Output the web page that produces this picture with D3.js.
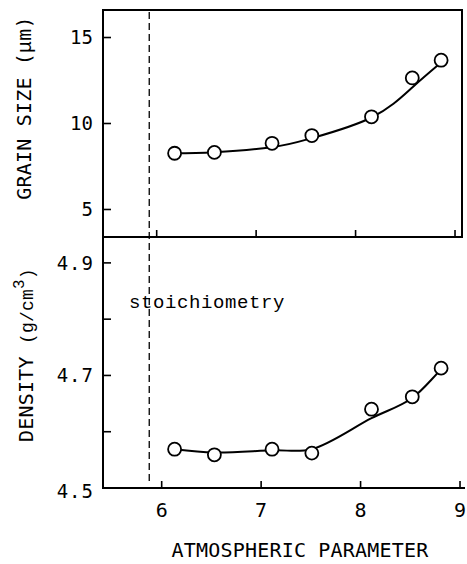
<!DOCTYPE html>
<html><head><meta charset="utf-8">
<script src="https://cdn.jsdelivr.net/npm/d3@7"></script>
<style>body{margin:0;background:#fff}svg{display:block}</style>
</head><body>
<script>
// ---- data ----
const xValues = [6.15, 6.55, 7.13, 7.53, 8.13, 8.54, 8.83];
const grainSize = [8.27, 8.32, 8.85, 9.30, 10.39, 12.65, 13.68];
const density = [4.569, 4.559, 4.569, 4.562, 4.640, 4.662, 4.713];
const grainFitX = [6.15, 6.55, 7.13, 7.53, 8.13, 8.54, 8.83];
const grainFitY = [8.27, 8.33, 8.62, 9.15, 10.35, 12.1, 13.55];
const densFitX = [6.15, 6.55, 7.14, 7.53, 8.13, 8.54, 8.83];
const densFitY = [4.569, 4.563, 4.567, 4.569, 4.624, 4.660, 4.712];
const xTicks = [6, 7, 8, 9];
const grainTicks = [5, 10, 15];
const densTicks = [4.5, 4.6, 4.7, 4.8, 4.9];
const densTickLabels = ["4.5", "", "4.7", "", "4.9"];
const stoichX = 5.895;

const W = 467, H = 564;
const svg = d3.select("body").append("svg").attr("width", W).attr("height", H);
const sans = "'DejaVu Sans Mono', monospace";
const mono = "'Liberation Mono', 'Courier New', monospace";

const x = d3.scaleLinear().domain([5.43, 9.04]).range([103, 462]);
const yTop = d3.scaleLinear().domain([3.4, 16.6]).range([237, 10]);
const yBot = d3.scaleLinear().domain([4.5, 4.946]).range([488, 237]);

const L = x.range()[0], R = x.range()[1];
const frame = svg.append("g").attr("stroke", "#000").attr("stroke-width", 2).attr("fill", "none");
frame.append("path").attr("d", `M${L},${yTop.range()[1]}H${R}V${yTop.range()[0]}H${L}Z`);
frame.append("path").attr("d", `M${L},${yBot.range()[1]}V${yBot.range()[0]}H${R + 3}`);

// ticks
const tg = svg.append("g").attr("stroke", "#000").attr("stroke-width", 1.6);
grainTicks.forEach(v => tg.append("line").attr("x1", L).attr("x2", L + 8).attr("y1", yTop(v)).attr("y2", yTop(v)));
xTicks.forEach(v => tg.append("line").attr("x1", x(v) - 3).attr("x2", x(v) - 3).attr("y1", yTop.range()[0]).attr("y2", yTop.range()[0] - 7));
densTicks.slice(1).forEach(v => tg.append("line").attr("x1", L).attr("x2", L + 8).attr("y1", yBot(v)).attr("y2", yBot(v)));
xTicks.forEach(v => tg.append("line").attr("x1", x(v) + 2).attr("x2", x(v) + 2).attr("y1", yBot.range()[0]).attr("y2", yBot.range()[0] - 7));

// tick labels
const lab = svg.append("g").attr("font-family", sans).attr("font-size", 19).attr("fill", "#000");
grainTicks.forEach(v => lab.append("text").attr("x", L - 10).attr("y", yTop(v)).attr("dy", "0.36em").attr("text-anchor", "end").text(v));
densTicks.forEach((v, i) => { if (densTickLabels[i]) lab.append("text").attr("x", L - 9).attr("y", yBot(v) + (v === 4.5 ? 3 : 0)).attr("dy", "0.36em").attr("text-anchor", "end").attr("letter-spacing", 1).text(densTickLabels[i]); });
xTicks.forEach(v => lab.append("text").attr("x", x(v) + 2).attr("y", 517).attr("text-anchor", "middle").attr("font-size", 20).text(v));

// axis titles
svg.append("text").attr("x", 300).attr("y", 557).attr("text-anchor", "middle")
  .attr("font-family", sans).attr("font-size", 20).attr("letter-spacing", 0.2).text("ATMOSPHERIC PARAMETER");
const t1 = svg.append("text").attr("transform", "translate(31,108) rotate(-90)").attr("text-anchor", "middle")
  .attr("font-family", sans).attr("font-size", 20).attr("letter-spacing", 0.2);
t1.append("tspan").text("GRAIN SIZE (");
t1.append("tspan").attr("font-family", mono).text("μm");
t1.append("tspan").text(")");
const t2 = svg.append("text").attr("transform", "translate(33,355) rotate(-90)").attr("text-anchor", "middle")
  .attr("font-family", sans).attr("font-size", 20).attr("letter-spacing", 0.2);
t2.append("tspan").text("DENSITY ");
t2.append("tspan").attr("font-family", mono).attr("font-size", 18).text("(g/cm");
t2.append("tspan").attr("font-family", mono).attr("font-size", 16).attr("dy", -9).text("3");
t2.append("tspan").attr("font-family", mono).attr("font-size", 18).attr("dy", 9).text(")");

// stoichiometry dashed line + label
svg.append("line").attr("x1", x(stoichX)).attr("x2", x(stoichX)).attr("y1", yTop.range()[1] + 2).attr("y2", yBot.range()[0] - 3)
  .attr("stroke", "#000").attr("stroke-width", 1.3).attr("stroke-dasharray", "7,4");
svg.append("text").attr("x", 129).attr("y", 308).attr("font-family", mono).attr("font-size", 19)
  .attr("letter-spacing", 0.6).text("stoichiometry");

// curves
const lineTop = d3.line().curve(d3.curveNatural);
const lineBot = d3.line().curve(d3.curveCatmullRom.alpha(0.5));
svg.append("path").attr("d", lineTop(grainFitX.map((v, i) => [x(v), yTop(grainFitY[i])])))
  .attr("fill", "none").attr("stroke", "#000").attr("stroke-width", 2);
svg.append("path").attr("d", lineBot(densFitX.map((v, i) => [x(v), yBot(densFitY[i])])))
  .attr("fill", "none").attr("stroke", "#000").attr("stroke-width", 2);

// points
svg.append("g").selectAll("circle").data(xValues).join("circle")
  .attr("cx", d => x(d)).attr("cy", (d, i) => yTop(grainSize[i])).attr("r", 6.5)
  .attr("fill", "#fff").attr("stroke", "#000").attr("stroke-width", 1.8);
svg.append("g").selectAll("circle").data(xValues).join("circle")
  .attr("cx", d => x(d)).attr("cy", (d, i) => yBot(density[i])).attr("r", 6.5)
  .attr("fill", "#fff").attr("stroke", "#000").attr("stroke-width", 1.8);
</script>
</body></html>
